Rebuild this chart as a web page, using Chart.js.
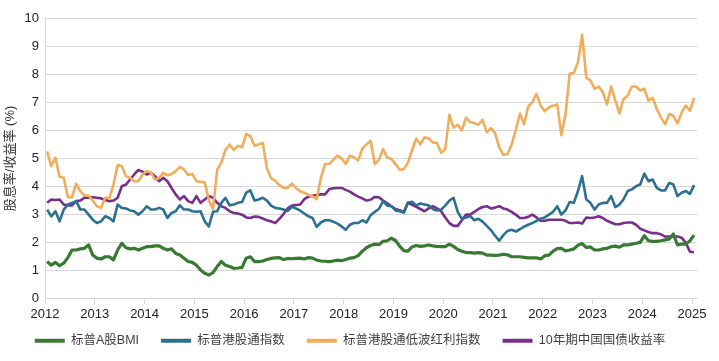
<!DOCTYPE html>
<html>
<head>
<meta charset="utf-8">
<script src="https://cdn.jsdelivr.net/npm/chart.js@4.4.0/dist/chart.umd.min.js"></script>
<style>
  html, body { margin: 0; padding: 0; background: #fff; }
  #wrap { width: 719px; height: 361px; }
</style>
</head>
<body>
<div id="wrap"><canvas id="chart" width="719" height="361"></canvas></div>
<script>
// === Data (monthly, Jan 2012 - Jan 2025) ===
const startYear = 2012;
const yearTicks = [2012, 2013, 2014, 2015, 2016, 2017, 2018, 2019, 2020, 2021, 2022, 2023, 2024, 2025];
const seriesNames = ["标普A股BMI", "标普港股通指数", "标普港股通低波红利指数", "10年期中国国债收益率"];

const aShareBMI = [
  1.33, 1.2, 1.3, 1.18, 1.27, 1.47, 1.74, 1.74, 1.78, 1.8, 1.92, 1.56,
  1.45, 1.42, 1.5, 1.5, 1.39, 1.74, 1.98, 1.82, 1.78, 1.8, 1.74, 1.8,
  1.86, 1.86, 1.89, 1.89, 1.8, 1.74, 1.78, 1.62, 1.56, 1.45, 1.33, 1.3,
  1.2, 1.03, 0.91, 0.85, 0.94, 1.15, 1.33, 1.2, 1.15, 1.09, 1.1, 1.12,
  1.45, 1.5, 1.33, 1.33, 1.35, 1.4, 1.44, 1.46, 1.47, 1.4, 1.44, 1.43,
  1.44, 1.45, 1.42, 1.47, 1.45, 1.38, 1.35, 1.34, 1.33, 1.35, 1.38, 1.36,
  1.4, 1.45, 1.47, 1.54, 1.7, 1.82, 1.9, 1.95, 1.93, 2.05, 2.07, 2.16,
  2.08, 1.88, 1.72, 1.7, 1.85, 1.9, 1.87, 1.89, 1.92, 1.89, 1.87, 1.86,
  1.86, 1.95, 1.87, 1.76, 1.7, 1.65, 1.65, 1.63, 1.65, 1.63, 1.56, 1.56,
  1.55, 1.56, 1.59, 1.57, 1.5, 1.5, 1.5, 1.48, 1.46, 1.46, 1.46, 1.42,
  1.54, 1.56, 1.7, 1.79, 1.8, 1.71, 1.74, 1.78, 1.91, 1.97, 1.83, 1.85,
  1.74, 1.74, 1.78, 1.8, 1.86, 1.88, 1.84, 1.92, 1.92, 1.95, 1.98, 2.01,
  2.25, 2.07, 2.05, 2.05, 2.07, 2.1, 2.13, 2.31, 1.92, 1.95, 1.95, 2.07,
  2.27
];

const hkConnect = [
  3.18, 2.94, 3.12, 2.76, 3.18, 3.36, 3.42, 3.48, 3.18, 3.18, 3.0, 2.82,
  2.7, 2.76, 2.94, 2.88, 2.76, 3.36, 3.24, 3.22, 3.15, 3.12, 3.0, 3.12,
  3.3, 3.18, 3.18, 3.24, 3.18, 2.88, 3.06, 3.12, 3.33, 3.18, 3.18, 3.12,
  3.1, 3.12, 2.76, 2.58, 3.1, 3.12, 3.42, 3.6, 3.33, 3.36, 3.42, 3.45,
  3.78, 3.86, 3.5, 3.54, 3.6, 3.5, 3.32, 3.24, 3.22, 3.18, 3.13, 3.28,
  3.22, 3.14, 3.04, 2.94, 2.88, 2.56, 2.72, 2.8, 2.8, 2.75, 2.68, 2.58,
  2.46, 2.64, 2.7, 2.7, 2.8, 2.72, 2.98, 3.1, 3.2, 3.48, 3.32, 3.3,
  3.15, 3.12, 3.08, 3.42, 3.46, 3.33, 3.4, 3.36, 3.33, 3.2, 3.15, 3.18,
  3.32, 3.5, 3.6, 3.1, 2.85, 2.9, 2.95, 2.8, 2.85, 2.75, 2.6, 2.45,
  2.25, 2.07, 2.27, 2.42, 2.46, 2.4, 2.48, 2.57, 2.64, 2.7, 2.78, 2.86,
  2.9, 3.0, 3.1, 3.3, 3.0, 3.15, 3.45, 3.42, 3.84, 4.37, 3.54, 3.42,
  3.18, 3.36, 3.42, 3.42, 3.66, 3.27, 3.36, 3.55, 3.84, 3.9, 4.01, 4.07,
  4.46, 4.19, 4.25, 3.95, 3.86, 3.86, 4.13, 4.07, 3.66, 3.78, 3.84, 3.74,
  4.05
];

const hkLowVolDiv = [
  5.25, 4.73, 5.03, 4.35, 4.31, 3.62, 3.62, 4.1, 3.83, 3.68, 3.68, 3.5,
  3.3, 3.24, 3.6, 3.6, 4.07, 4.77, 4.73, 4.37, 4.31, 4.19, 4.19, 4.43,
  4.55, 4.5, 4.25, 4.3, 4.49, 4.4, 4.45, 4.55, 4.7, 4.61, 4.41, 4.45,
  4.19, 4.17, 4.15, 3.5, 3.2, 4.6, 4.85, 5.3, 5.5, 5.3, 5.45, 5.4,
  5.87, 5.8, 5.45, 5.5, 5.55, 4.65, 4.3, 4.2, 4.05, 3.95, 3.95, 4.1,
  3.95, 3.83, 3.78, 3.7, 3.65, 3.55, 4.3, 4.8, 4.8, 4.95, 5.1, 5.0,
  4.8, 5.1, 5.04, 4.93, 5.35, 5.5, 5.63, 4.8, 4.95, 5.33, 5.04, 4.98,
  4.8, 4.6, 4.62, 4.85, 5.3, 5.7, 5.5, 5.75, 5.72, 5.57, 5.55, 5.2,
  5.33, 6.55, 6.1, 6.2, 6.0, 6.45, 6.3, 6.25, 6.2, 6.37, 5.93, 6.08,
  5.9, 5.4, 5.13, 5.15, 5.5, 6.0, 6.6, 6.22, 6.85, 7.0, 7.3, 6.88,
  6.68, 6.82, 6.88, 6.92, 5.83, 6.58, 8.02, 8.04, 8.43, 9.41, 7.87, 7.78,
  7.48, 7.56, 7.36, 6.92, 7.56, 7.06, 6.6, 7.12, 7.24, 7.56, 7.56, 7.42,
  7.48, 7.06, 7.16, 6.76, 6.46, 6.22, 6.58, 6.52, 6.25, 6.64, 6.88, 6.7,
  7.16
];

const cgb10y = [
  3.42, 3.54, 3.52, 3.54, 3.36, 3.33, 3.33, 3.48, 3.5, 3.6, 3.6, 3.62,
  3.6, 3.58, 3.52, 3.48, 3.5, 3.6, 4.01, 4.07, 4.25, 4.43, 4.59, 4.53,
  4.43, 4.49, 4.37, 4.19, 4.31, 4.19, 3.95, 3.72, 3.54, 3.66, 3.48, 3.42,
  3.66, 3.42, 3.54, 3.66, 3.6, 3.42, 3.3, 3.24, 3.12, 3.06, 3.04, 3.0,
  2.9, 2.88, 2.93, 2.92, 2.86, 2.8, 2.76, 2.7, 2.85, 3.02, 3.22, 3.32,
  3.34, 3.36, 3.55, 3.64, 3.67, 3.7, 3.72, 3.72, 3.9, 3.94, 3.95, 3.95,
  3.88, 3.82, 3.72, 3.64, 3.58, 3.5, 3.53, 3.63, 3.62, 3.5, 3.4, 3.3,
  3.2, 3.16, 3.08, 3.42, 3.35, 3.28, 3.2, 3.12, 3.22, 3.3, 3.22, 3.12,
  2.9, 2.7, 2.6, 2.6, 2.8, 3.0, 3.0, 3.1, 3.2, 3.27, 3.3, 3.22,
  3.25, 3.3, 3.22, 3.18, 3.1, 3.0, 2.88, 2.88, 2.92, 3.0, 2.9, 2.78,
  2.78, 2.82, 2.82, 2.82, 2.82, 2.78, 2.7, 2.7, 2.72, 2.68, 2.9, 2.88,
  2.9, 2.94, 2.88, 2.78, 2.72, 2.66, 2.66, 2.7, 2.72, 2.72, 2.64, 2.5,
  2.44, 2.38, 2.34, 2.34, 2.3, 2.22, 2.22, 2.22, 2.22, 2.18, 2.0, 1.68,
  1.66
];

const seriesColors = ["#387a32", "#2c7091", "#f0ad5b", "#7b2d8c"];

// month-end points placed mid-month on a year axis
function toPoints(values) {
  return values.map((v, i) => ({ x: startYear + (i + 0.5) / 12, y: v }));
}

const FONT = "'Liberation Sans', Arial, 'Noto Sans CJK SC', sans-serif";
const LEGEND_PULL = 13; // let the plot grow into the legend's top padding

function makeDataset(label, values, color, width) {
  return {
    label,
    data: toPoints(values),
    borderColor: color,
    backgroundColor: color,
    borderWidth: width,
    pointRadius: 0,
    tension: 0,
    borderJoinStyle: "round",
  };
}

// shrink legend box height but keep its items where they were
const legendSpacing = {
  id: "legendSpacing",
  beforeLayout(chart) {
    const lg = chart.legend;
    if (lg && !lg._pulled) {
      const fit = lg.fit;
      lg.fit = function () {
        fit.call(this);
        this.height -= LEGEND_PULL;
      };
      lg._pulled = true;
    }
  },
  afterLayout(chart) {
    const lg = chart.legend;
    if (lg) {
      lg.top -= LEGEND_PULL;
    }
  },
};

const datasets = [
  makeDataset(seriesNames[0], aShareBMI, seriesColors[0], 3.2),
  makeDataset(seriesNames[1], hkConnect, seriesColors[1], 2.6),
  makeDataset(seriesNames[2], hkLowVolDiv, seriesColors[2], 2.6),
  makeDataset(seriesNames[3], cgb10y, seriesColors[3], 2.6),
];

new Chart(document.getElementById("chart"), {
  type: "line",
  data: { datasets },
  plugins: [legendSpacing],
  options: {
    responsive: false,
    animation: false,
    layout: { padding: { left: 3, right: 22, top: 18, bottom: 4 } },
    plugins: {
      tooltip: { enabled: false },
      legend: {
        position: "bottom",
        labels: {
          boxWidth: 30,
          boxHeight: 4,
          padding: 22,
          color: "#404040",
          font: { family: FONT, size: 12.5 },
          generateLabels(chart) {
            return Chart.defaults.plugins.legend.labels
              .generateLabels(chart)
              .map((l) => ({ ...l, lineWidth: 0 }));
          },
        },
      },
    },
    scales: {
      x: {
        type: "linear",
        min: 2012,
        max: 2025.1,
        grid: {
          drawOnChartArea: false,
          drawTicks: true,
          tickLength: 5,
          color: "#d9d9d9",
        },
        border: { color: "#d9d9d9", width: 1 },
        ticks: {
          stepSize: 1,
          includeBounds: false,
          autoSkip: false,
          maxRotation: 0,
          color: "#222",
          padding: 3,
          font: { family: FONT, size: 13 },
          callback: (v) => (yearTicks.includes(v) ? String(v) : ""),
        },
      },
      y: {
        min: 0,
        max: 10,
        grid: { color: "#d9d9d9", drawTicks: false, lineWidth: 1 },
        border: { color: "#d9d9d9" },
        ticks: {
          stepSize: 1,
          color: "#222",
          padding: 6,
          font: { family: FONT, size: 13 },
        },
        title: {
          display: true,
          text: "股息率/收益率 (%)",
          color: "#333",
          padding: { top: 0, bottom: 0 },
          font: { family: FONT, size: 13 },
        },
      },
    },
  },
});
</script>
</body>
</html>
